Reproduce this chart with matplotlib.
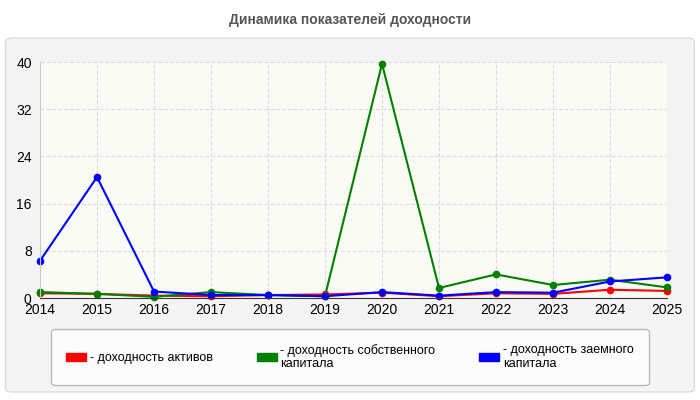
import matplotlib.pyplot as plt
from matplotlib.patches import FancyBboxPatch

plt.rcParams['font.family'] = ['Liberation Sans', 'DejaVu Sans']

years = list(range(2014, 2026))
assets = [0.8, 0.7, 0.4, 0.3, 0.5, 0.6, 0.9, 0.3, 0.8, 0.7, 1.4, 1.2]
equity = [1.0, 0.7, 0.2, 1.0, 0.5, 0.3, 39.7, 1.7, 4.0, 2.2, 3.1, 1.8]
borrowed = [6.3, 20.5, 1.1, 0.5, 0.5, 0.3, 1.0, 0.4, 1.0, 0.9, 2.8, 3.5]
labels = ['- доходность активов', '- доходность собственного\nкапитала', '- доходность заемного\nкапитала']

fig = plt.figure(figsize=(7, 4), dpi=100)
fig.patch.set_facecolor('white')
fig.patches.append(FancyBboxPatch((0.008, 0.02), 0.984, 0.885, boxstyle='round,pad=0,rounding_size=0.01',
                                  transform=fig.transFigure, facecolor='#f4f4f4', edgecolor='#dddddd',
                                  lw=1, zorder=-10))
fig.text(0.5, 0.95, 'Динамика показателей доходности', ha='center', va='center',
         fontsize=10, fontweight='bold', color='#555555')

ax = fig.add_axes([40 / 700, 1 - 298 / 400, 627 / 700, 236 / 400])
ax.set_facecolor('#fbfbf6')
for vals, c, lab in [(assets, 'red', labels[0]), (equity, 'green', labels[1]), (borrowed, 'blue', labels[2])]:
    ax.plot(years, vals, color=c, lw=1.5, marker='o', ms=4.5, label=lab, clip_on=False)
ax.set_xlim(2014, 2025)
ax.set_ylim(0, 40)
ax.set_xticks(years)
ax.set_yticks([0, 8, 16, 24, 32, 40])
ax.grid(True, color='#dddddd', ls='--', lw=0.8)
for s in ['top', 'right']:
    ax.spines[s].set_visible(False)
ax.spines['left'].set_color('#cccccc')
ax.spines['bottom'].set_color('#333333')
ax.tick_params(length=0, labelsize=10)
ax.tick_params(axis='y', pad=6)

handles = [plt.Rectangle((0, 0), 1, 1, color=c) for c in ['red', 'green', 'blue']]
leg = fig.legend(handles, labels, loc='center', bbox_to_anchor=(350 / 700, 1 - 357 / 400), ncol=3,
                 fontsize=9, frameon=True, handlelength=1.6, handleheight=0.6, handletextpad=0.3,
                 columnspacing=3.5, borderpad=1.0, labelspacing=0.2)
leg.get_frame().set_facecolor('white')
leg.get_frame().set_edgecolor('#aaaaaa')
leg.get_frame().set_boxstyle('round,pad=0.2,rounding_size=0.3')

fig.savefig('out.png', dpi=100)
